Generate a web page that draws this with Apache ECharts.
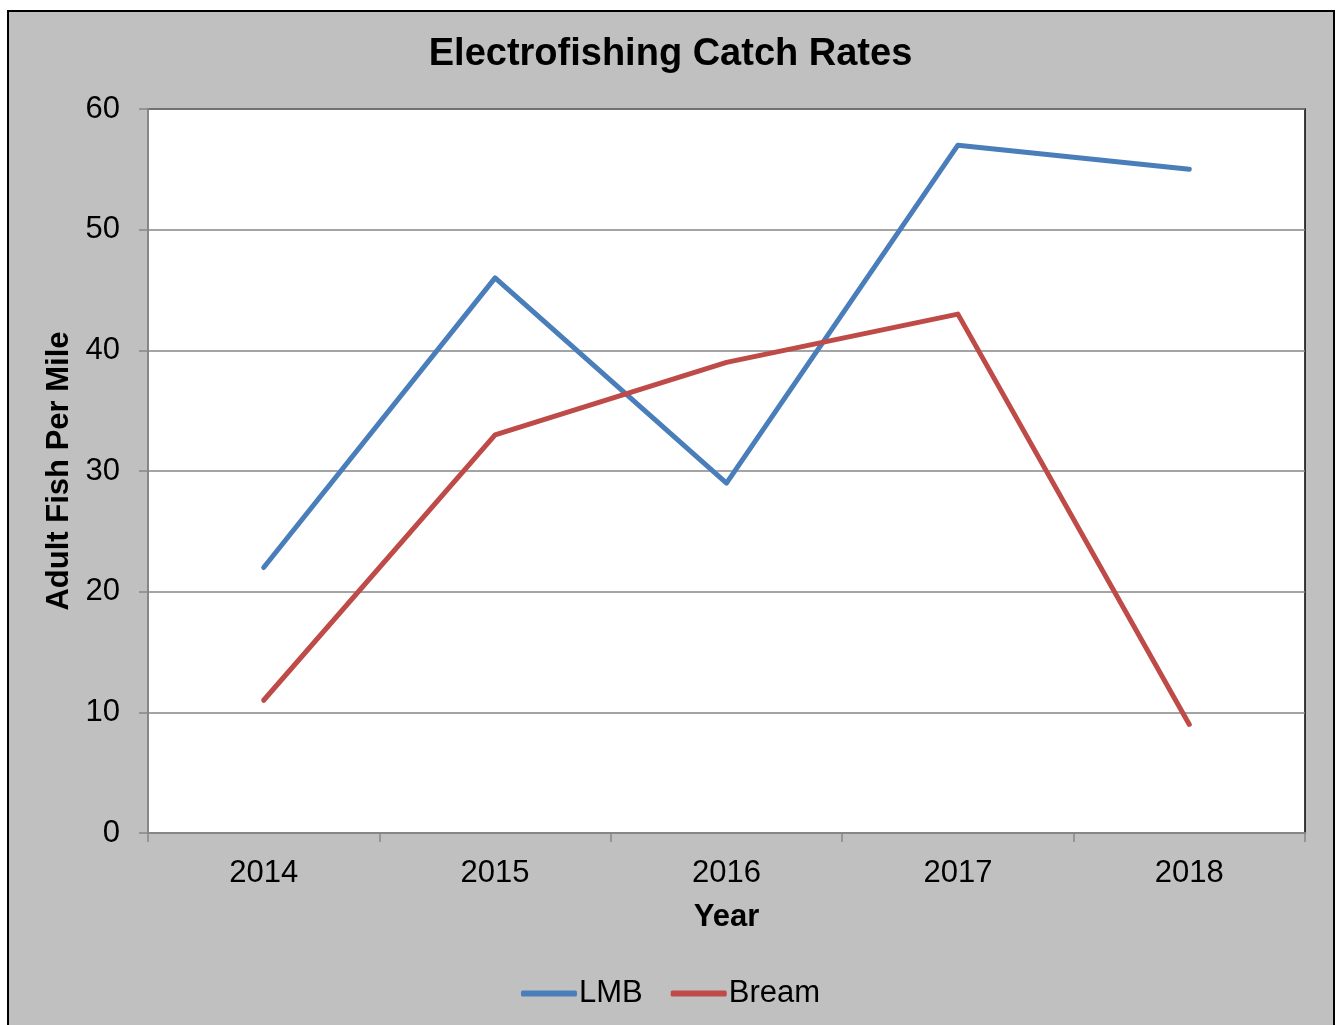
<!DOCTYPE html>
<html>
<head>
<meta charset="utf-8">
<style>
html,body{margin:0;padding:0;background:#fff;}
#c{width:1341px;height:1025px;}
</style>
<script src="https://cdn.jsdelivr.net/npm/echarts@6/dist/echarts.min.js"></script>
</head>
<body>
<div id="c"></div>
<script>
var years = ['2014','2015','2016','2017','2018'];
var lmb = [22, 46, 29, 57, 55];
var bream = [11, 33, 39, 43, 9];
var yTicks = {min: 0, max: 60, interval: 10};

var chart = echarts.init(document.getElementById('c'), null, {renderer: 'canvas'});
var font = 'Arial, "Liberation Sans", sans-serif';
chart.setOption({
  animation: false,
  backgroundColor: '#ffffff',
  graphic: [{
    type: 'rect', z: -10, silent: true,
    shape: {x: 8, y: 11, width: 1326, height: 1030},
    style: {fill: '#C0C0C0', stroke: '#000', lineWidth: 2}
  }],
  title: {
    text: 'Electrofishing Catch Rates',
    left: 'center', top: 31,
    textStyle: {fontFamily: font, fontSize: 38, fontWeight: 'bold', color: '#000'}
  },
  legend: {
    bottom: 11, left: 'center',
    itemWidth: 56, itemHeight: 6, itemGap: 28, icon: 'roundRect',
    textStyle: {fontFamily: font, fontSize: 31, color: '#000', padding: [0, 0, 0, -3]},
    data: ['LMB', 'Bream']
  },
  grid: {
    left: 148, top: 109, width: 1157, height: 724,
    show: true, backgroundColor: '#ffffff', borderColor: '#000', borderWidth: 1.5
  },
  xAxis: {
    type: 'category', data: years, boundaryGap: true,
    name: 'Year', nameLocation: 'middle', nameGap: 69,
    nameTextStyle: {fontFamily: font, fontSize: 31, fontWeight: 'bold', color: '#000'},
    axisLine: {lineStyle: {color: '#868686', width: 2}},
    axisTick: {show: true, length: 9, lineStyle: {color: '#868686', width: 1.5}},
    axisLabel: {fontFamily: font, fontSize: 31, color: '#000', margin: 25},
    splitLine: {show: false}
  },
  yAxis: {
    type: 'value', min: yTicks.min, max: yTicks.max, interval: yTicks.interval,
    name: 'Adult Fish Per Mile', nameLocation: 'middle', nameGap: 72,
    nameTextStyle: {fontFamily: font, fontSize: 31, fontWeight: 'bold', color: '#000'},
    axisLine: {show: true, lineStyle: {color: '#868686', width: 2}},
    axisTick: {show: true, length: 9, lineStyle: {color: '#868686', width: 1.5}},
    axisLabel: {fontFamily: font, fontSize: 31, color: '#000', margin: 28},
    splitLine: {show: true, lineStyle: {color: '#868686', width: 1.5}}
  },
  series: [
    {name: 'LMB', type: 'line', data: lmb, symbol: 'none',
     lineStyle: {color: '#4A7EBB', width: 5, cap: 'round', join: 'round'}, itemStyle: {color: '#4A7EBB'}},
    {name: 'Bream', type: 'line', data: bream, symbol: 'none',
     lineStyle: {color: '#BE4B48', width: 5, cap: 'round', join: 'round'}, itemStyle: {color: '#BE4B48'}}
  ]
});
</script>
</body>
</html>
